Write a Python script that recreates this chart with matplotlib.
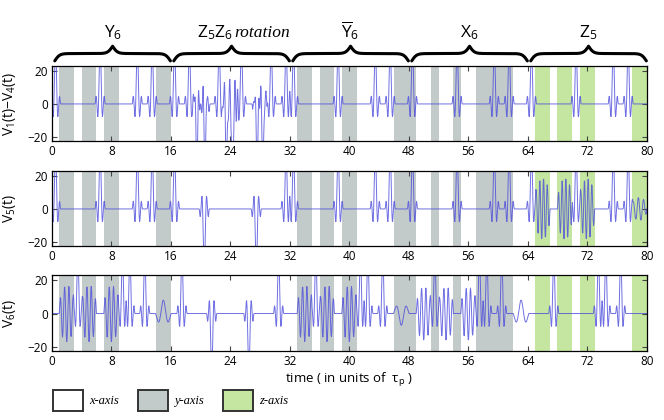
import numpy as np
import matplotlib.pyplot as plt
from matplotlib.patches import Rectangle
from matplotlib.transforms import blended_transform_factory

plt.rcParams['font.family'] = ['Open Sans', 'DejaVu Sans']
plt.rcParams['mathtext.default'] = 'regular'

# shaded intervals (time in units of tau_p)
gray_spans = [(1, 3), (4, 6), (7, 9), (14, 16), (33, 35), (36, 38), (39, 41), (46, 49),
              (51, 52), (54, 55), (57, 62)]
green_spans = [(65, 67), (68, 70), (71, 73), (78, 80)]

# braces over the top panel
sections = [(0, 16), (16, 32), (32, 48), (48, 64), (64, 80)]
section_labels = ["Y$_6$", "", r"$\overline{Y}_6$", "X$_6$", "Z$_5$"]

# pulses: centres of positive / negative spikes, bursts (start, end, amp, period), humps (centre, amp)
p1_up = [0.5, 6.5, 11.5, 13.5, 16.5, 18.5, 22.5, 25.5, 29.5, 31.5, 32.5, 38.5, 43.5, 45.5,
         48.5, 54.5, 59.5, 61.5, 64.5, 70.5, 75.5, 77.5]
p1_down = [19.5, 20.6, 23.5, 24.3, 27.6, 28.4]
p1_bursts = [(18.9, 21.0, 9, 0.35), (22.8, 25.2, 9, 0.35), (27.0, 29.0, 9, 0.35)]
p1_humps = []

p2_up = [0.5, 6.5, 11.5, 13.5, 16.5, 31.5, 32.5, 38.5, 43.5, 45.5, 48.5, 54.5, 59.5, 61.5,
         64.5, 70.5, 75.5, 77.5]
p2_down = [20.5, 27.5]
p2_bursts = [(65, 67, 19, 0.5), (68, 70, 19, 0.5), (71, 73, 19, 0.5), (78, 80, 7, 0.7)]
p2_humps = []

p3_up = [3.5, 9.5, 10.5, 12.5, 17.5, 30.5, 35.5, 41.5, 42.5, 44.5, 51.5, 57.5, 58.5, 60.5,
         67.5, 73.5, 74.5, 76.5]
p3_down = [21.5, 26.5]
p3_bursts = [(1, 3, 17, 0.58), (4, 6, 17, 0.58), (7, 9, 17, 0.58), (33, 35, 17, 0.58),
             (36, 38, 17, 0.58), (39, 41, 17, 0.58), (49, 51, 16, 0.58), (52, 54, 16, 0.58),
             (55, 57, 16, 0.58)]
p3_humps = [(15, 8), (47, -7), (63.1, 8)]

ylabels = ["V$_1$(t)$-$V$_4$(t)", "V$_5$(t)", "V$_6$(t)"]
legend_labels = ["x-axis", "y-axis", "z-axis"]

gray = "#c3cbca"
green = "#c4e6a0"
legend_colors = ["white", gray, green]

t = np.arange(0, 80.001, 0.05)


def signal(up, down, bursts, humps, amp=36, w=0.22):
    v = np.zeros_like(t)
    for c, a in [(c, amp) for c in up] + [(c, -amp) for c in down]:
        x = (t - c) / w
        m = np.abs(x) < 3
        v[m] += a * np.sinc(x[m])
    for t0, t1, a, per in bursts:
        m = (t >= t0) & (t <= t1)
        u = (t[m] - t0) / (t1 - t0)
        v[m] += a * np.sin(2 * np.pi * (t[m] - t0) / per) * np.sin(np.pi * u) ** 0.4
    for c, a in humps:
        d = t - c
        m = np.abs(d) < 1.05
        v[m] += a * np.cos(2 * np.pi * d[m] / 1.4) * np.exp(-d[m] ** 2)
    return v


panels = [(p1_up, p1_down, p1_bursts, p1_humps),
          (p2_up, p2_down, p2_bursts, p2_humps),
          (p3_up, p3_down, p3_bursts, p3_humps)]
positions = [[0.078, 0.664, 0.896, 0.179],
             [0.078, 0.414, 0.896, 0.179],
             [0.078, 0.164, 0.896, 0.181]]

fig = plt.figure(figsize=(6.64, 4.2), dpi=100)
axes = []
for i, (pos, p) in enumerate(zip(positions, panels)):
    ax = fig.add_axes(pos)
    for a, b in gray_spans:
        ax.axvspan(a, b, color=gray, lw=0, zorder=0)
    for a, b in green_spans:
        ax.axvspan(a, b, color=green, lw=0, zorder=0)
    ax.plot(t, signal(*p), color="#4b4bdc", lw=0.7, alpha=0.8, zorder=2)
    ax.set_xlim(0, 80)
    ax.set_ylim(-22.5, 23)
    ax.set_xticks(np.arange(0, 81, 8))
    ax.set_yticks([-20, 0, 20])
    ax.tick_params(direction="in", top=True, right=True, length=3.5, width=0.8,
                   labelsize=8.5, pad=3, color="#444444")
    for s in ax.spines.values():
        s.set_linewidth(0.9)
    ax.set_ylabel(ylabels[i], fontsize=10)
    ax.yaxis.set_label_coords(-0.057, 0.5)
    axes.append(ax)

axes[2].set_xlabel(r"time ( in units of  $\tau_p$ )", fontsize=9.5, labelpad=2)

# curly braces
blend = blended_transform_factory(axes[0].transData, fig.transFigure)
y_end, y_tip = 0.855, 0.890
for (a, b), lab in zip(sections, section_labels):
    x0, x1 = a + 0.4, b - 0.05
    u = np.linspace(0, 1, 200)
    k = 24
    half = 0.5 * (1 / (1 + np.exp(-k * u)) + 1 / (1 + np.exp(-k * (u - 1))))
    half = (half - half[0]) / (half[-1] - half[0])
    yy = np.concatenate([half, half[::-1]])
    xx = np.concatenate([np.linspace(x0, (x0 + x1) / 2, 200), np.linspace((x0 + x1) / 2, x1, 200)])
    axes[0].plot(xx, y_end + yy * (y_tip - y_end), color="black", lw=2.2,
                 transform=blend, clip_on=False, solid_capstyle="round")
    if lab:
        axes[0].text((x0 + x1) / 2, 0.912, lab, transform=blend, ha="center", va="baseline",
                     fontsize=12.5)

axes[0].text(24.4, 0.912, "Z$_5$Z$_6$", transform=blend, ha="right", va="baseline", fontsize=12.5)
axes[0].text(24.6, 0.912, "rotation", transform=blend, ha="left", va="baseline", fontsize=12.5,
             family="Liberation Serif", style="italic")

# legend boxes
for i, (lab, col) in enumerate(zip(legend_labels, legend_colors)):
    x = 0.0794 + i * 0.128
    fig.add_artist(Rectangle((x, 0.0214), 0.0452, 0.05, transform=fig.transFigure,
                             facecolor=col, edgecolor="#333333", lw=1.4))
    fig.text(x + 0.0545, 0.046, lab, ha="left", va="center", fontsize=9,
             family="Liberation Serif", style="italic")

fig.savefig("out.png", dpi=100)
